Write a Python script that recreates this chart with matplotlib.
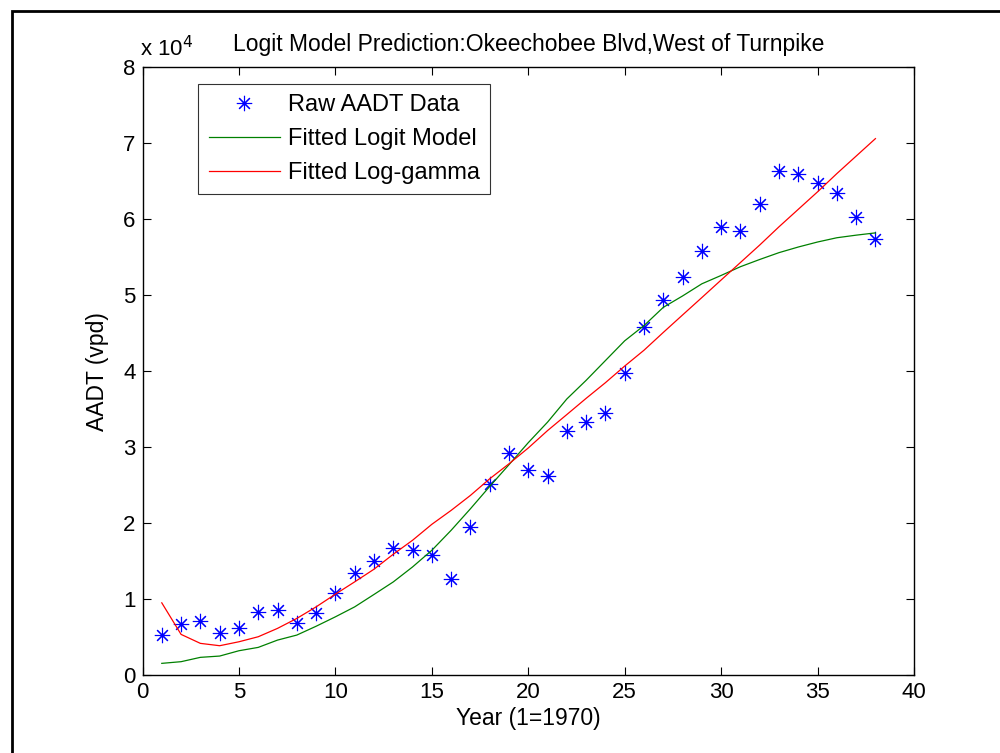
import numpy as np
import matplotlib
matplotlib.use("Agg")
import matplotlib.pyplot as plt
from matplotlib.ticker import FuncFormatter
from matplotlib.patches import Rectangle

plt.rcParams['font.family'] = ['Liberation Sans', 'DejaVu Sans']

# data
year = list(range(1, 39))
raw_aadt = [5290, 6730, 7170, 5510, 6250, 8350, 8570, 6900, 8130, 10890,
            13470, 15040, 16710, 16440, 15790, 12730, 19500, 25100, 29300, 26990,
            26240, 32100, 33280, 34510, 39800, 45840, 49340, 52360, 55880, 58960,
            58500, 61960, 66400, 65960, 64780, 63390, 60340, 57330]
logit_fit = [1570, 1790, 2360, 2530, 3230, 3670, 4630, 5290, 6450, 7690,
             9000, 10630, 12280, 14250, 16440, 19070, 21900, 24840, 27700, 30600,
             33300, 36350, 38800, 41400, 44000, 46000, 48400, 49900, 51500, 52600,
             53750, 54700, 55600, 56340, 57000, 57560, 57900, 58200]
loggamma_fit = [9530, 5380, 4200, 3890, 4410, 5070, 6170, 7480, 9000, 10670,
                12290, 13950, 15920, 17760, 19860, 21690, 23660, 25850, 27820, 29900,
                32190, 34300, 36430, 38490, 40680, 42760, 45100, 47400, 49690, 52000,
                54300, 56600, 59000, 61300, 63600, 66000, 68300, 70600]

fig = plt.figure(figsize=(10, 7.53), dpi=100)
ax = fig.add_axes([0.1425, 0.1032, 0.7715, 0.8076])

ax.plot(year, raw_aadt, linestyle='none', marker=(8, 2, 0), markersize=11,
        markeredgewidth=0.8, color='#0000ff', label='Raw AADT Data')
ax.plot(year, logit_fit, color='#008000', lw=0.9, label='Fitted Logit Model')
ax.plot(year, loggamma_fit, color='#ff0000', lw=0.9, label='Fitted Log-gamma')

ax.set_xlim(0, 40)
ax.set_ylim(0, 80000)
ax.set_xticks(range(0, 41, 5))
ax.set_yticks(range(0, 80001, 10000))
ax.yaxis.set_major_formatter(FuncFormatter(lambda v, p: '%d' % round(v / 1e4)))
ax.tick_params(direction='in', top=True, right=True, length=6, width=0.8,
               labelsize=16, pad=5)
for s in ax.spines.values():
    s.set_linewidth(1.0)

ax.set_xlabel('Year (1=1970)', fontsize=16.5, labelpad=3)
ax.set_ylabel('AADT (vpd)', fontsize=16.5, labelpad=10)
ax.set_title('Logit Model Prediction:Okeechobee Blvd,West of Turnpike',
             fontsize=16.5, pad=12)
ax.text(-0.003, 1.01, 'x 10$^4$', transform=ax.transAxes, fontsize=16,
        ha='left', va='bottom')

leg = ax.legend(loc='upper left', bbox_to_anchor=(0.072, 0.973), fontsize=17,
                frameon=True, fancybox=False, edgecolor='black',
                handlelength=3.0, borderpad=0.45, labelspacing=0.5,
                handletextpad=0.35, borderaxespad=0)
leg.get_frame().set_linewidth(0.8)

# outer black frame of the original figure
fig.patches.append(Rectangle((0.012, -0.1), 1.2, 1.0854, transform=fig.transFigure,
                             fill=False, edgecolor='black', lw=2))

fig.savefig('out.png', dpi=100)
